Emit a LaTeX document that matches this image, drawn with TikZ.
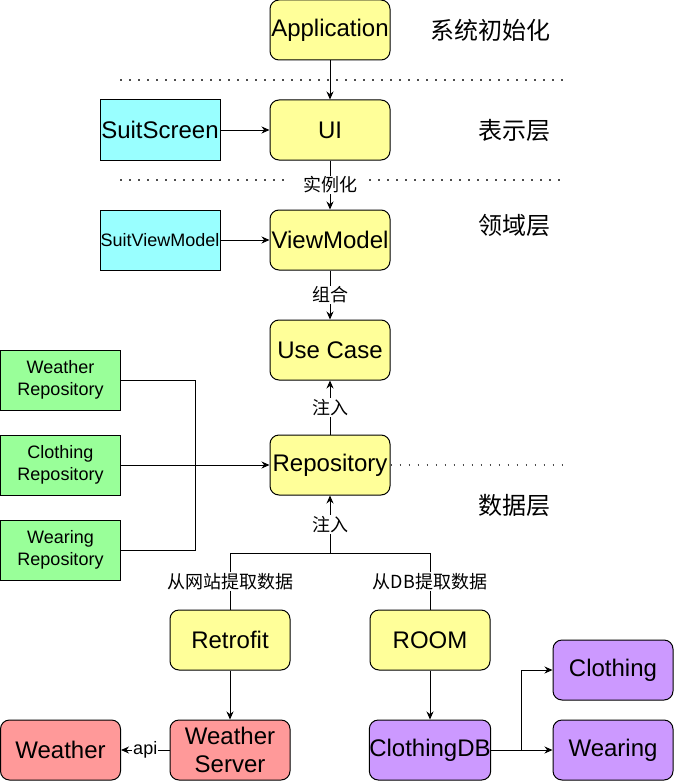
\documentclass[tikz,border=0pt]{standalone}
\usepackage{fontspec}
\setmainfont{Liberation Sans}
\newfontfamily\cjk{Noto Sans CJK SC}
\usetikzlibrary{arrows.meta}
\definecolor{boxyellow}{HTML}{FFFF99}
\definecolor{boxcyan}{HTML}{99FFFF}
\definecolor{boxgreen}{HTML}{99FF99}
\definecolor{boxred}{HTML}{FF9999}
\definecolor{boxpurple}{HTML}{CC99FF}
\tikzset{
	box/.style={draw, line width=1pt, minimum width=120pt, minimum height=60pt, inner sep=0pt, align=center, font=\fontsize{24}{27.6}\selectfont},
	roundbox/.style={box, rounded corners=9pt},
	smallbox/.style={box, font=\fontsize{18}{22}\selectfont},
	conn/.style={line width=1pt},
	arr/.style={conn, -{Stealth[length=8pt,width=7pt]}},
	lbl/.style={fill=white, inner sep=1pt, font=\cjk\fontsize{18}{21}\selectfont},
	layer/.style={font=\cjk\fontsize{24}{28}\selectfont},
	sep/.style={line width=2pt, black!70, dash pattern=on 1.5pt off 7.5pt},
}

\begin{document}
\begin{tikzpicture}[x=1pt, y=-1pt]
			%%%%% START %%%%%
			\useasboundingbox (0, 0) rectangle (674, 781);
			
			\draw[sep] (120, 80) -- (563, 80);
			\draw[sep] (120, 180) -- (291, 180);
			\draw[sep] (369, 180) -- (563, 180);
			
			\node[roundbox, fill=boxyellow] (App) at (330, 30) {Application};
			\node[roundbox, fill=boxyellow] (UI) at (330, 130) {UI};
			\node[roundbox, fill=boxyellow] (VM) at (330, 240) {ViewModel};
			\node[roundbox, fill=boxyellow] (UseCase) at (330, 350) {Use Case};
			\node[roundbox, fill=boxyellow] (Repo) at (330, 465) {Repository};
			\node[roundbox, fill=boxyellow] (Retrofit) at (230, 640) {Retrofit};
			\node[roundbox, fill=boxyellow] (Room) at (430, 640) {ROOM};
			
			\node[box, fill=boxcyan] (SuitScreen) at (160, 130) {SuitScreen};
			\node[smallbox, fill=boxcyan] (SuitVM) at (160, 240) {SuitViewModel};
			
			\node[smallbox, fill=boxgreen] (WeatherRepo) at (60.5, 380) {Weather\\Repository};
			\node[smallbox, fill=boxgreen] (ClothingRepo) at (60.5, 465) {Clothing\\Repository};
			\node[smallbox, fill=boxgreen] (WearingRepo) at (60.5, 550) {Wearing\\Repository};
			
			\node[roundbox, fill=boxred] (Server) at (230, 750) {Weather\\Server};
			\node[roundbox, fill=boxred] (Weather) at (60.5, 750) {Weather};
			
			\node[roundbox, fill=boxpurple] (ClothingDB) at (430, 750) {ClothingDB};
			\node[roundbox, fill=boxpurple] (Clothing) at (613, 670) {Clothing};
			\node[roundbox, fill=boxpurple] (Wearing) at (613, 750) {Wearing};
			
			\node[layer] (InitText) at (490, 30) {系统初始化};
			\node[layer] (ViewText) at (514, 130) {表示层};
			\node[layer] (DomainText) at (514, 225) {领域层};
			\node[layer] (DataText) at (514, 505) {数据层};
			
			\draw[sep] (Repo.east) -- (568, 465);
			
			\draw[arr] (App) -- (UI);
			\draw[arr] (SuitScreen) -- (UI);
			\draw[arr] (UI) -- node[lbl] {实例化} (VM);
			\draw[arr] (SuitVM) -- (VM);
			\draw[arr] (VM) -- node[lbl] {组合} (UseCase);
			\draw[arr] (Repo) -- node[lbl] {注入} (UseCase);
			
			\coordinate (merge) at (195, 465);
			\draw[conn] (WeatherRepo.east) -| (merge);
			\draw[conn] (WearingRepo.east) -| (merge);
			\draw[arr] (ClothingRepo) -- (Repo);
			
			\coordinate (fork) at (330, 553);
			\draw[conn] (Retrofit.north) -- node[lbl] {从网站提取数据} (Retrofit.north |- fork) -- (Room.north |- fork) -- node[lbl] {从DB提取数据} (Room.north);
			\draw[arr] (fork) -- node[lbl] {注入} (Repo.south);
			
			\draw[arr] (Retrofit) -- (Server);
			\draw[arr] (Server) -- node[lbl, font=\fontsize{18}{21}\selectfont] {api} (Weather);
			
			\coordinate (split) at (521, 750);
			\draw[arr] (Room) -- (ClothingDB);
			\draw[arr] (ClothingDB) -- (Wearing);
			\draw[arr] (split) |- (Clothing.west);
			%%%%% END %%%%%
\end{tikzpicture}
\end{document}
